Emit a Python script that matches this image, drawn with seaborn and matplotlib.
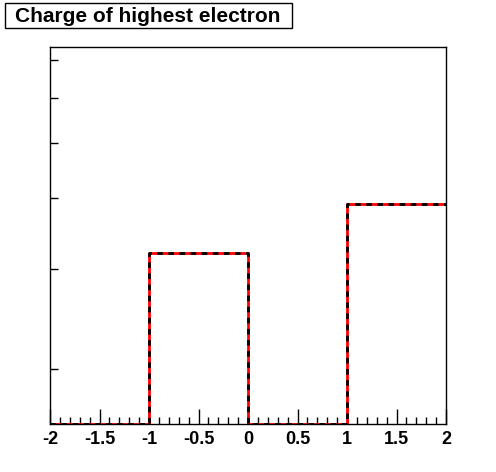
import numpy as np
import pandas as pd
import matplotlib
matplotlib.use('Agg')
import matplotlib.pyplot as plt
import seaborn as sns
from matplotlib.patches import Rectangle
from matplotlib.ticker import MultipleLocator, FixedLocator, NullFormatter

# histogram: charge of highest electron
bin_edges = [-2, -1, 0, 1, 2]
counts = [0, 3200, 0, 3900]
y_min, y_max = 1600, 7380

sns.set_style('white')
plt.rcParams['font.family'] = ['Liberation Sans', 'DejaVu Sans']
plt.rcParams['text.color'] = 'black'
plt.rcParams['xtick.color'] = 'black'
plt.rcParams['ytick.color'] = 'black'

W, H = 496, 472
fig = plt.figure(figsize=(W / 100, H / 100), dpi=100)
ax = fig.add_axes([50 / W, 48 / H, 396 / W, 377 / H])

vals = np.clip(np.array(counts, dtype=float), y_min, None)
df = pd.DataFrame({'x': bin_edges, 'y': np.append(vals, vals[-1])})

sns.lineplot(data=df, x='x', y='y', drawstyle='steps-post', color='red',
             linewidth=2, ax=ax)
sns.lineplot(data=df, x='x', y='y', drawstyle='steps-post', color='black',
             linewidth=2, linestyle=(0, (2, 2)), ax=ax)

ax.set_yscale('log')
ax.set_xlim(-2, 2)
ax.set_ylim(y_min, y_max)
ax.set_xlabel('')
ax.set_ylabel('')

ax.xaxis.set_major_locator(MultipleLocator(0.5))
ax.xaxis.set_minor_locator(MultipleLocator(0.1))
ax.xaxis.set_major_formatter(plt.FuncFormatter(lambda v, p: ('%g' % v)))
ax.yaxis.set_major_locator(FixedLocator([]))
ax.yaxis.set_minor_locator(FixedLocator([2000, 3000, 4000, 5000, 6000, 7000]))
ax.yaxis.set_minor_formatter(NullFormatter())

ax.tick_params(axis='x', which='major', direction='in', length=11, width=1,
               bottom=True, top=False, labelsize=13, pad=5,
               colors='black', labelcolor='black')
ax.tick_params(axis='x', which='minor', direction='in', length=5, width=1,
               bottom=True, top=False, colors='black')
ax.tick_params(axis='y', which='both', direction='in', length=6, width=1,
               left=True, right=False, colors='black')
for lab in ax.get_xticklabels():
    lab.set_fontweight('bold')

for s in ax.spines.values():
    s.set_color('black')
    s.set_linewidth(1)

# title box
fig.patches.append(Rectangle((5 / W, 1 - 28 / H), 287 / W, 25 / H,
                             transform=fig.transFigure, facecolor='white',
                             edgecolor='black', linewidth=1))
fig.text(15 / W, 1 - 16 / H, 'Charge of highest electron', fontsize=15,
         fontweight='bold', va='center', ha='left', color='black')

fig.savefig('out.png', dpi=100)
